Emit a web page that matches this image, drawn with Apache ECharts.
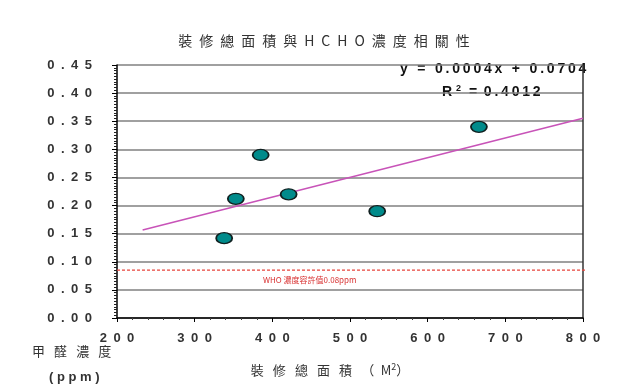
<!DOCTYPE html>
<html><head><meta charset="utf-8">
<script src="https://cdn.jsdelivr.net/npm/echarts@6/dist/echarts.min.js"></script>
<style>html,body{margin:0;padding:0;background:#fff}#c{width:618px;height:388px}</style>
</head><body><div id="c"></div>
<script>
const titleText = '裝修總面積與HCHO濃度相關性';
const xName = '裝修總面積';
const yName = ['甲醛濃度', '(ppm)'];
const areaM2 = [338, 353, 385, 421, 535, 666];
const hcho = [0.142, 0.212, 0.29, 0.22, 0.19, 0.34];
const trendRange = [233, 800];
const whoRange = [200, 845];
const whoLimit = 0.085;
const whoLabel = 'WHO 濃度容許值0.08ppm';
const eqText = 'y = 0.0004x + 0.0704';
const r2Text = '0.4012';

const TH = '\u2009', EN = '\u2002';
const sp = (s, g) => String(s).split('').join(g);
const eqSpaced = s => s.split(' ').map(w => sp(w, TH)).join(TH + ' ' + TH);

// least-squares trendline from the points
const n = areaM2.length;
const mx = areaM2.reduce((a,b)=>a+b,0)/n, my = hcho.reduce((a,b)=>a+b,0)/n;
let sxy=0, sxx=0;
for (let i=0;i<n;i++){ sxy+=(areaM2[i]-mx)*(hcho[i]-my); sxx+=(areaM2[i]-mx)**2; }
const slope = sxy/sxx, icpt = my - slope*mx;
const trend = trendRange.map(x => [x, icpt + slope*x]);

const chart = echarts.init(document.getElementById('c'));
const labFont = {color:'#333', fontSize:13, fontWeight:'bold', fontFamily:'Liberation Sans, Arial, sans-serif'};
chart.setOption({
  backgroundColor:'#fff',
  animation:false,
  title:{text:sp(titleText, EN), left:319, top:29, textAlign:'center',
    textStyle:{fontSize:14, fontWeight:'normal', color:'#333', fontFamily:'Noto Sans CJK TC, sans-serif'}},
  grid:{left:117, right:35, top:65, bottom:70},
  xAxis:{type:'value', min:200, max:800, interval:100,
    axisLine:{lineStyle:{color:'#000', width:1.5}},
    axisTick:{show:true, length:4, lineStyle:{color:'#000'}},
    minorTick:{show:true, splitNumber:5, length:2, lineStyle:{color:'#444'}},
    splitLine:{show:false},
    axisLabel:Object.assign({margin:14, formatter:v=>sp(v, EN)}, labFont),
    name:sp('裝修總面積', EN+TH) + EN + TH + '（' + EN + 'M{sup|2}）', nameLocation:'middle', nameGap:44,
    nameTextStyle:{fontSize:13, color:'#333', fontFamily:'Noto Sans CJK TC, sans-serif', padding:[0,40,0,0],
      rich:{sup:{fontSize:9, verticalAlign:'top', padding:[0,0,7,0], color:'#333'}}}
  },
  yAxis:[{type:'value', min:0, max:0.45, interval:0.05,
    axisLine:{show:true, lineStyle:{color:'#000', width:1.5}},
    axisTick:{show:true, length:5, lineStyle:{color:'#000'}},
    minorTick:{show:true, splitNumber:10, length:3, lineStyle:{color:'#222'}},
    splitLine:{show:true, lineStyle:{color:'#808080', width:1.5}},
    axisLabel:Object.assign({margin:25, formatter:v=>sp(v.toFixed(2), EN)}, labFont)
  },{type:'value', min:0, max:0.45, position:'right',
    axisLine:{show:true, lineStyle:{color:'#333', width:1.5}},
    axisTick:{show:false}, axisLabel:{show:false}, splitLine:{show:false}}],
  graphic:[
    {type:'text', left:32, top:345, style:{text:sp(yName[0], EN+TH), fill:'#333', font:'13px "Noto Sans CJK TC"'}},
    {type:'text', left:49, top:371, style:{text:sp(yName[1], ' '), fill:'#333', font:'bold 13px "Liberation Sans"'}},
    {type:'text', left:400, top:62, style:{text:eqSpaced(eqText), fill:'#111', font:'bold 14px "Liberation Sans"'}},
    {type:'text', left:442, top:84, style:{text:'R{sup|2}' + TH + '=' + TH + ' ' + sp(r2Text, TH), fill:'#111', font:'bold 14px "Liberation Sans"',
      rich:{sup:{fontSize:9, fontWeight:'bold', fontFamily:'Liberation Sans', verticalAlign:'top', padding:[0,5,7,4]}}}},
    {type:'text', left:263, top:276, style:{text:whoLabel, fill:'#d83030', font:'8px "Noto Sans CJK TC"'}}
  ],
  series:[
    {type:'line', data:whoRange.map(x => [x, whoLimit]), showSymbol:false, symbol:'none', clip:false,
      lineStyle:{color:'#e8453c', type:[3,2], width:1.2}, z:2},
    {type:'line', data:trend, showSymbol:false, symbol:'none',
      lineStyle:{color:'#c853b8', width:1.5}, z:3},
    {type:'scatter', data:areaM2.map((x,i)=>[x,hcho[i]]), symbol:'circle', symbolSize:[16,11],
      itemStyle:{color:'#008b8b', borderColor:'#102020', borderWidth:1.5, opacity:1}, z:5}
  ]
});
</script></body></html>
